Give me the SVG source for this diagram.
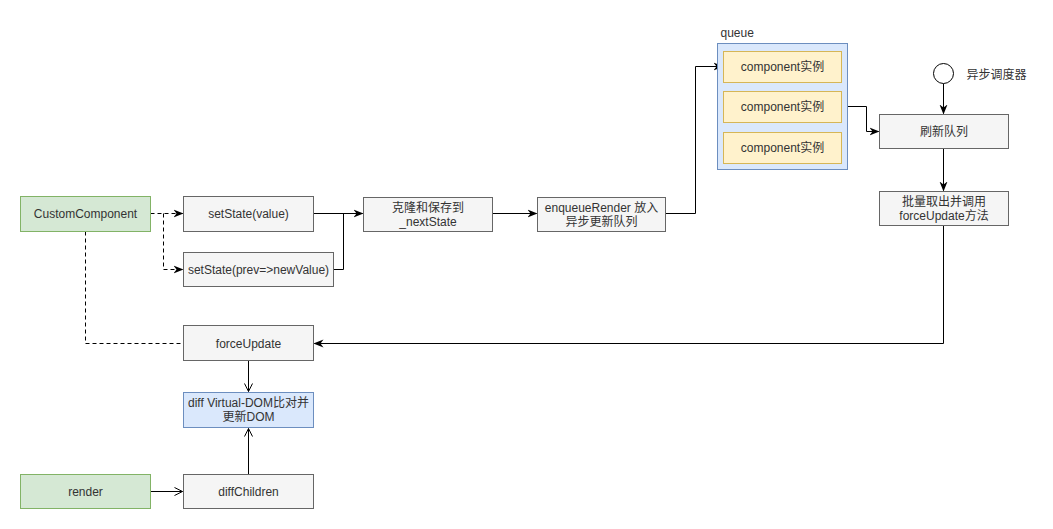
<svg xmlns="http://www.w3.org/2000/svg" width="1053" height="529" viewBox="0 0 1053 529">
<style>
text{font-family:"Liberation Sans","Noto Sans CJK SC",sans-serif;font-size:12px;fill:#333;text-anchor:middle;dominant-baseline:central}
.g{fill:#f5f5f5;stroke:#666;stroke-width:1}
.gr{fill:#d5e8d4;stroke:#82b366;stroke-width:1}
.bl{fill:#dae8fc;stroke:#6c8ebf;stroke-width:1}
.y{fill:#fff2cc;stroke:#d6b656;stroke-width:1}
.c{fill:none;stroke:#000;stroke-width:1}
.d{stroke-dasharray:4 3}
</style>
<defs>
<marker id="a" viewBox="0 0 10 10" refX="9" refY="5" markerWidth="10" markerHeight="10" markerUnits="userSpaceOnUse" orient="auto"><path d="M0,1 L10,5 L0,9 L3,5 Z" fill="#000"/></marker>
<marker id="o" viewBox="0 0 10 10" refX="9" refY="5" markerWidth="10" markerHeight="10" markerUnits="userSpaceOnUse" orient="auto"><path d="M1,1 L9,5 L1,9" fill="none" stroke="#000"/></marker>
</defs>
<rect width="1053" height="529" fill="#fff"/>
<g transform="translate(0.5,0.5)">
<g id="connectors">
<path class="c d" d="M150,213 H182" marker-end="url(#a)"/>
<path class="c d" d="M163,213 V269 H182" marker-end="url(#a)"/>
<path class="c" d="M313,213 H362" marker-end="url(#a)"/>
<path class="c" d="M333,269 H343 V213"/>
<path class="c" d="M492,213 H536" marker-end="url(#a)"/>
<path class="c" d="M665,213 H695 V66 H722" marker-end="url(#a)"/>
<path class="c" d="M841,106 H866 V131 H878" marker-end="url(#a)"/>
<path class="c" d="M943,83 V113" marker-end="url(#a)"/>
<path class="c" d="M943,148 V190" marker-end="url(#a)"/>
<path class="c" d="M943,225 V343 H314" marker-end="url(#a)"/>
<path class="c d" d="M85,231 V343 H183"/>
<path class="c" d="M248,360 V391" marker-end="url(#o)"/>
<path class="c" d="M150,491 H182" marker-end="url(#o)"/>
<path class="c" d="M248,474 V428" marker-end="url(#o)"/>
</g>
<g id="customcomponent"><rect class="gr" x="20" y="196" width="130" height="35"/><text x="85" y="213.5">CustomComponent</text></g>
<g id="setstate-value"><rect class="g" x="183" y="196" width="130" height="35"/><text x="248" y="213.5">setState(value)</text></g>
<g id="setstate-prev"><rect class="g" x="183" y="252" width="150" height="34"/><text x="258" y="269">setState(prev=&gt;newValue)</text></g>
<g id="clone"><rect class="g" x="363" y="197" width="129" height="34"/><text x="427.5" y="207">克隆和保存到</text><text x="427.5" y="221">_nextState</text></g>
<g id="enqueue"><rect class="g" x="537" y="197" width="128" height="34"/><text x="601" y="207">enqueueRender 放入</text><text x="601" y="221">异步更新队列</text></g>
<g id="queue">
<text x="720" y="32" style="text-anchor:start">queue</text>
<rect class="bl" x="717" y="43" width="130" height="126"/>
<rect class="y" x="723" y="51" width="118" height="31"/><text x="782" y="66.5">component实例</text>
<rect class="y" x="723" y="91" width="118" height="31"/><text x="782" y="106.5">component实例</text>
<rect class="y" x="723" y="132" width="118" height="31"/><text x="782" y="147.5">component实例</text>
</g>
<g id="scheduler"><circle cx="943" cy="73" r="10" fill="#fff" stroke="#000"/><text x="966" y="74" style="text-anchor:start">异步调度器</text></g>
<g id="flush"><rect class="g" x="879" y="114" width="129" height="34"/><text x="943.5" y="131">刷新队列</text></g>
<g id="batch"><rect class="g" x="879" y="191" width="129" height="34"/><text x="943.5" y="201">批量取出并调用</text><text x="943.5" y="215">forceUpdate方法</text></g>
<g id="forceupdate"><rect class="g" x="183" y="325" width="130" height="35"/><text x="248" y="343">forceUpdate</text></g>
<g id="diff"><rect class="bl" x="183" y="392" width="130" height="35"/><text x="248" y="402.5">diff Virtual-DOM比对并</text><text x="248" y="416.5">更新DOM</text></g>
<g id="render"><rect class="gr" x="20" y="474" width="130" height="34"/><text x="85" y="491">render</text></g>
<g id="diffchildren"><rect class="g" x="183" y="474" width="130" height="34"/><text x="248" y="491">diffChildren</text></g>
</g>
</svg>
